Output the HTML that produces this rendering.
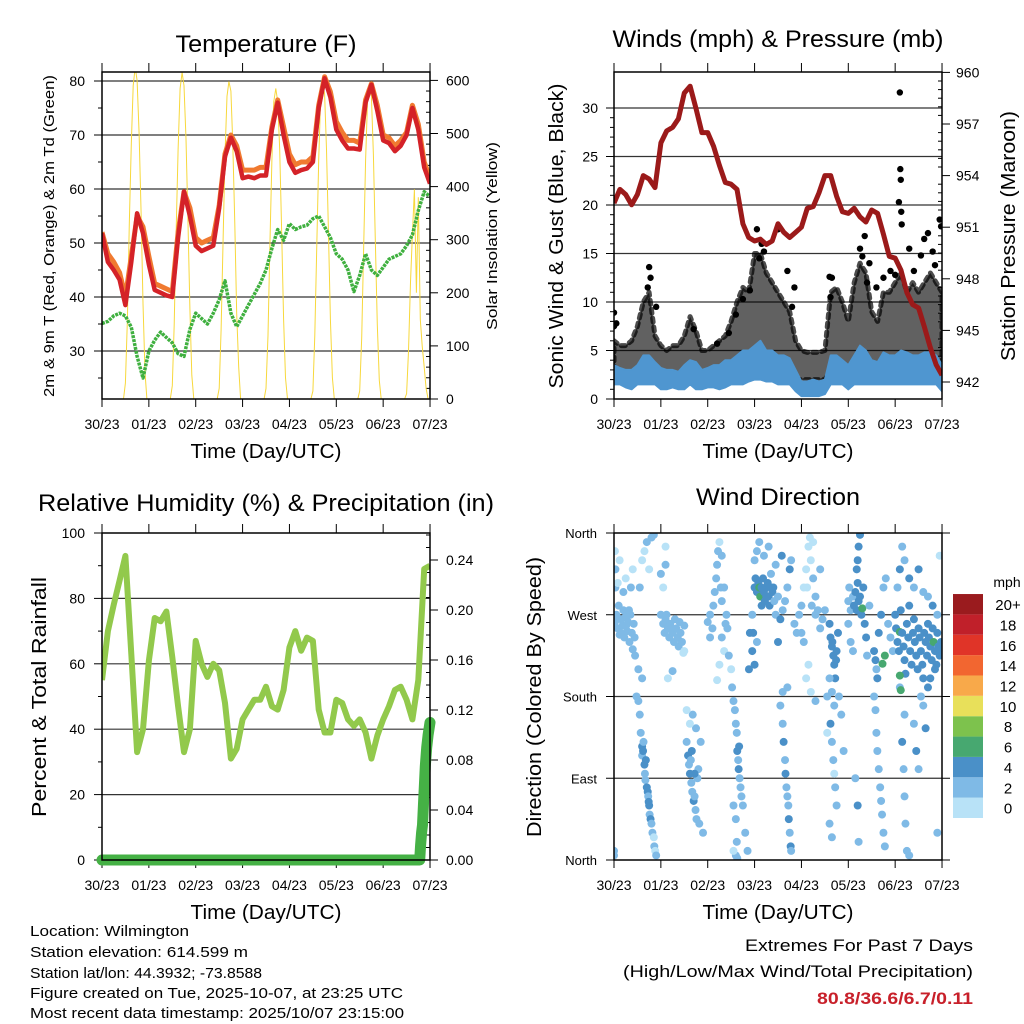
<!DOCTYPE html>
<html><head><meta charset="utf-8"><style>
html,body{margin:0;padding:0;background:#fff;}
svg{display:block;font-family:"Liberation Sans",sans-serif;}
</style></head><body>
<svg id="fig" width="1024" height="1024" viewBox="0 0 1024 1024" xmlns="http://www.w3.org/2000/svg">
<defs>
<clipPath id="c1"><rect x="102" y="72" width="328" height="327"/></clipPath>
<clipPath id="c2"><rect x="614" y="72" width="328" height="327"/></clipPath>
<clipPath id="c3"><rect x="102" y="533" width="328" height="327"/></clipPath>
<clipPath id="c4"><rect x="614" y="533" width="328" height="327"/></clipPath>
</defs>
<g id="g1"></g>
<g id="g2"></g>
<g id="g3"></g>
<g id="g4"></g>

<text x="266" y="52" text-anchor="middle" font-size="24" textLength="181" lengthAdjust="spacingAndGlyphs">Temperature (F)</text>
<text x="778" y="47" text-anchor="middle" font-size="24" textLength="331" lengthAdjust="spacingAndGlyphs">Winds (mph) &amp; Pressure (mb)</text>
<text x="266" y="511" text-anchor="middle" font-size="24" textLength="456" lengthAdjust="spacingAndGlyphs">Relative Humidity (%) &amp; Precipitation (in)</text>
<text x="778" y="505" text-anchor="middle" font-size="24" textLength="164" lengthAdjust="spacingAndGlyphs">Wind Direction</text>

<text x="266" y="458" text-anchor="middle" font-size="20" textLength="151" lengthAdjust="spacingAndGlyphs">Time (Day/UTC)</text>
<text x="778" y="458" text-anchor="middle" font-size="20" textLength="151" lengthAdjust="spacingAndGlyphs">Time (Day/UTC)</text>
<text x="266" y="919" text-anchor="middle" font-size="20" textLength="151" lengthAdjust="spacingAndGlyphs">Time (Day/UTC)</text>
<text x="778" y="919" text-anchor="middle" font-size="20" textLength="151" lengthAdjust="spacingAndGlyphs">Time (Day/UTC)</text>

<text transform="translate(54,236) rotate(-90)" text-anchor="middle" font-size="15" textLength="322" lengthAdjust="spacingAndGlyphs">2m &amp; 9m T (Red, Orange) &amp; 2m Td (Green)</text>
<text transform="translate(497,236) rotate(-90)" text-anchor="middle" font-size="15" textLength="188" lengthAdjust="spacingAndGlyphs">Solar Insolation (Yellow)</text>
<text transform="translate(563,236) rotate(-90)" text-anchor="middle" font-size="20" textLength="305" lengthAdjust="spacingAndGlyphs">Sonic Wind &amp; Gust (Blue, Black)</text>
<text transform="translate(1015,236) rotate(-90)" text-anchor="middle" font-size="20" textLength="250" lengthAdjust="spacingAndGlyphs">Station Pressure (Maroon)</text>
<text transform="translate(46,697) rotate(-90)" text-anchor="middle" font-size="20" textLength="240" lengthAdjust="spacingAndGlyphs">Percent &amp; Total Rainfall</text>
<text transform="translate(541,697) rotate(-90)" text-anchor="middle" font-size="20" textLength="280" lengthAdjust="spacingAndGlyphs">Direction (Colored By Speed)</text>

<g font-size="15">
<text x="30" y="936" textLength="159" lengthAdjust="spacingAndGlyphs">Location: Wilmington</text>
<text x="30" y="957" textLength="218" lengthAdjust="spacingAndGlyphs">Station elevation: 614.599 m</text>
<text x="30" y="978" textLength="232" lengthAdjust="spacingAndGlyphs">Station lat/lon: 44.3932; -73.8588</text>
<text x="30" y="998" textLength="373" lengthAdjust="spacingAndGlyphs">Figure created on Tue, 2025-10-07, at 23:25 UTC</text>
<text x="30" y="1018" textLength="374" lengthAdjust="spacingAndGlyphs">Most recent data timestamp: 2025/10/07 23:15:00</text>
</g>
<text x="973" y="951" text-anchor="end" font-size="17" textLength="228" lengthAdjust="spacingAndGlyphs">Extremes For Past 7 Days</text>
<text x="973" y="977" text-anchor="end" font-size="17" textLength="350" lengthAdjust="spacingAndGlyphs">(High/Low/Max Wind/Total Precipitation)</text>
<text x="973" y="1004" text-anchor="end" font-size="17" font-weight="bold" fill="#c8202a" textLength="156" lengthAdjust="spacingAndGlyphs">80.8/36.6/6.7/0.11</text>
</svg>
<script>
// ---------- data (3-hour samples, index i => day i/8 from 30/23) ----------
const dayLabels = ["30/23","01/23","02/23","03/23","04/23","05/23","06/23","07/23"];
const temp2m = [51.8,46.5,45,43.2,38.5,46.5,55.5,51.8,46,41.3,40.8,40.3,40,51,59.5,55,49.5,48.5,49,49.5,56.5,66,69.5,67,62,62.3,62,62.5,62.5,71,76,70,65,63,63.5,63.8,65,75,80.5,77,71,69,67.5,67.5,67.3,76,79.3,74.5,69,68.5,67,68,70,75,71,64,61];
const temp9m = [52,48,46.5,44.5,40,47.5,55,53,47.5,42.5,42,41.5,41,52,59.5,56.5,51,50,50.5,51,57,66.5,70,68,63.5,63.5,63.5,64,64,71.5,76.5,71.5,66.5,64.5,65,65,66,75.5,80.8,78,72.5,70.5,69,69,68.5,76.5,79.5,75.5,70,69.5,68,69,70.5,75.5,72,65,62];
const dewpoint = [35.1,35.5,36.5,37,36.5,34.4,29,25,30,32,33.5,32.5,31.5,29.5,29,34,37,36,35,37,39.5,43,37,34.5,36.5,38.5,40.5,42.5,45,49,52.5,50.5,53.6,52.5,53,53.3,54.5,55,53,51,48,47,45,41,44,48,45,44,45.5,47,47.5,48,49.5,51.5,56,59.5,58.6];
// hourly solar insolation per day (hour 0 = 23 UTC)
const solarD0 = [0,0,0,0,0,0,0,0,0,0,0,0,30,150,330,480,590,625,600,500,350,180,50,0];
const solarD1 = [0,0,0,0,0,0,0,0,0,0,0,0,25,140,320,470,585,615,590,490,340,170,45,0];
const solarD2 = [0,0,0,0,0,0,0,0,0,0,0,0,20,130,300,460,570,598,580,480,330,160,60,0];
const solarD3 = [0,0,0,0,0,0,0,0,0,0,0,0,20,120,290,450,560,585,560,470,320,150,40,0];
const solarD4 = [0,0,0,0,0,0,0,0,0,0,0,0,15,120,290,450,570,594,575,470,310,150,40,0];
const solarD5 = [0,0,0,0,0,0,0,0,0,0,0,0,15,115,280,450,560,592,570,460,300,140,35,0];
const solarD6 = [0,0,0,0,0,0,0,0,0,0,0,0,10,90,220,310,395,200,380,150,100,60,20,0];
const pressure = [952.4,953.2,952.9,952.3,952.9,954.0,953.8,953.3,955.9,956.6,956.8,957.3,958.8,959.2,957.9,956.5,956.5,955.7,954.6,953.6,953.5,953.2,951.2,950.4,950.2,950.3,950.0,950.2,951.2,950.7,950.4,950.7,951.0,952.1,952.2,953.0,954.0,954.0,952.8,951.9,951.8,952.1,951.6,951.3,952.0,951.8,950.6,949.3,949.2,948.5,947.2,946.5,946.3,945.2,944.0,943.0,942.4];
const windLo = [1.5,1.5,1.2,1,1.5,1.5,1.5,1.5,1,1,1.2,1,1,1.5,1,1,1.2,1.2,1,1.2,1.5,1.5,1.5,1.8,2,2,1.8,1.8,1.5,1.5,1.5,0.8,0.3,0.3,0.3,0.3,0.5,1.5,1.5,1.5,1,1.5,1.5,1.5,1.5,1.5,1.5,1.5,1.5,1.5,1.5,1.5,1.5,1.5,1.5,1.5,0.8];
const windHi = [3.5,3.2,3,3,3.5,4.5,4.5,3.8,3.2,3,3,2.8,3.5,4,3.8,3,3.2,3.5,3.5,4,4,4.5,5,5,5.5,6,5,5,4.5,4.5,4.2,3,1.8,1.8,2,1.8,2,4.5,4.5,4,3.5,4.5,5.5,5,4,3.8,4.8,4.5,4.5,5,4.8,4.5,4.5,4.8,4.8,4.5,3.5];
const gustLo = [2.5,2.5,2.5,2.5,3,3.5,3.5,3,2.5,2.5,2.5,2.5,2.5,3,3,2.5,2.5,2.5,3,3,3.5,3.5,4,4,4,5,4.5,4,3.5,3,3,2,2,2,2,2,2,3,3,3,2.5,3,3.5,3.5,3,3,3,3.5,3.5,3.5,3.5,3,3.5,3.5,3.5,3,3];
const gustHi = [6,5.5,5.5,6,7.5,10,11,6.5,5.5,5,5.5,5.5,6.5,8.5,7,5,5,5.5,6,6.5,8,10,11.5,11,15,15,13,12,11,10,9,6,5,4.8,4.8,4.8,5,11,11.5,10,8,12,14,13,9,8,11,11,12,13,11,12,11,12,13,12,11];
const gustOutDays = [0.0,0.0,0.05,0.72,0.75,0.78,0.9,1.7,2.2,2.45,2.6,2.75,2.9,3.05,3.1,3.15,3.2,3.5,3.7,3.8,3.85,4.6,4.62,4.65,5.25,5.3,5.35,5.4,5.45,5.6,5.75,5.9,6.0,6.08,6.1,6.11,6.12,6.13,6.14,6.3,6.4,6.55,6.62,6.7,6.8,6.85,6.95,6.98];
const gustOutVals = [8.9,7.5,7.8,11.5,13.6,12.5,9.5,7.2,5.7,6.8,8.7,10.3,11.2,17.5,14.5,16,15.2,17.5,13.2,9.5,11.5,12.6,10.5,12.5,15.5,14.7,16.8,12,14,11.5,12.5,13.2,12.8,20.3,31.6,23.7,22.6,19.3,18,15.5,13.2,14.8,16.5,17.1,15.2,13.8,18.5,17.8];
const rhVals = [55,70,78,85.5,93,63,33,40,61,74,73,76,62,47,33,40,67,60,56,60,58,48,31,34,43,46,49,49,53,47,46,52,65,70,64,68,67,46,39,39,49,48,43,41,43,39,31,38,43,47,52,53,49,43,55,89,90];
const precipDays = [0,6.5,6.78,6.8,6.82,6.84,6.86,6.88,6.9,6.93,6.96,7.0];
const precipVals = [0,0,0,0.012,0.022,0.028,0.045,0.06,0.075,0.09,0.1,0.11];
// wind direction observations: [day, direction(deg), speed(mph)]
const windDirObs = [
[0.02,262,2],[0.05,270,2],[0.08,255,2],[0.1,280,2],[0.12,248,2],[0.15,265,2],[0.18,258,2],[0.2,275,2],[0.22,245,2],[0.25,268,2],[0.28,252,2],[0.3,262,2],[0.33,240,2],[0.35,270,2],[0.38,250,2],[0.4,232,2],[0.42,260,2],[0.45,225,2],[0.03,300,2],[0.08,305,0],[0.12,330,0],[0.2,295,2],[0.25,310,0],[0.36,300,2],[0.4,320,0],[0.02,340,0],[0.0,10,2],[0.0,5,2],[0.03,320,2],[0.06,265,2],[0.14,250,2],[0.26,258,2],[0.32,275,2],[0.44,245,2],
[0.48,180,2],[0.52,175,2],[0.55,160,2],[0.57,140,2],[0.6,125,4],[0.6,115,2],[0.62,120,4],[0.63,130,2],[0.65,105,4],[0.66,95,2],[0.67,88,2],[0.7,80,4],[0.72,75,4],[0.73,70,2],[0.75,60,4],[0.76,50,2],[0.78,45,4],[0.8,40,2],[0.82,30,2],[0.85,25,0],[0.86,15,2],[0.88,10,0],[0.9,5,2],[0.55,300,2],[0.6,330,0],[0.65,340,0],[0.7,350,2],[0.8,355,2],[0.85,358,2],[0.75,320,0],[0.52,210,2],[0.6,200,2],[0.68,110,4],[0.74,64,4],
[1.0,270,2],[1.05,260,2],[1.08,250,2],[1.1,265,2],[1.15,255,2],[1.18,245,2],[1.2,260,2],[1.25,250,2],[1.28,240,2],[1.3,265,2],[1.33,255,2],[1.36,245,2],[1.38,235,2],[1.4,262,2],[1.42,250,2],[1.45,240,2],[1.48,228,0],[1.5,258,2],[1.05,300,0],[1.1,325,2],[1.0,315,2],[1.1,345,0],[1.15,200,0],[1.25,208,2],[1.5,230,0],[1.12,270,2],[1.22,255,2],
[1.55,130,2],[1.58,115,4],[1.6,105,2],[1.62,95,4],[1.64,110,2],[1.65,85,2],[1.67,75,2],[1.7,65,4],[1.72,70,2],[1.74,55,2],[1.76,45,2],[1.78,90,2],[1.8,100,2],[1.82,40,2],[1.85,130,2],[1.75,145,2],[1.62,150,0],[1.68,160,2],[1.9,30,2],[1.55,165,0],[1.66,120,4],[1.72,95,4],
[2.0,262,2],[2.05,270,2],[2.1,255,2],[2.12,280,2],[2.15,295,2],[2.18,310,2],[2.2,325,2],[2.22,340,2],[2.25,350,0],[2.28,300,2],[2.3,285,2],[2.3,245,2],[2.35,230,0],[2.4,270,2],[2.42,255,2],[2.45,225,2],[2.5,210,0],[2.2,198,0],[2.25,215,0],[2.38,260,2],[2.05,245,2],[2.3,335,2],[2.35,300,2],
[2.52,190,2],[2.55,175,2],[2.58,165,2],[2.6,150,2],[2.62,140,2],[2.63,120,4],[2.65,110,2],[2.66,100,4],[2.68,90,2],[2.7,80,2],[2.72,70,2],[2.75,60,2],[2.55,60,2],[2.6,45,2],[2.62,20,2],[2.6,5,2],[2.63,2,2],[2.55,10,0],[2.8,30,2],[2.85,10,2],[2.9,250,4],[2.95,230,4],[2.88,210,4],[2.67,125,4],
[3.0,300,4],[3.02,310,4],[3.05,295,4],[3.08,305,4],[3.1,300,6],[3.12,290,6],[3.15,280,4],[3.18,310,4],[3.2,295,4],[3.22,285,4],[3.25,300,4],[3.28,305,4],[3.3,290,4],[3.32,280,4],[3.35,315,2],[3.38,295,4],[3.4,300,4],[3.42,285,2],[3.45,270,2],[3.5,290,2],[3.0,330,2],[3.05,340,2],[3.1,350,2],[3.2,335,2],[3.3,345,2],[3.45,325,2],[2.95,270,2],[2.97,250,4],[3.0,215,4],[3.05,240,2],[3.15,300,4],[3.25,290,4],[3.35,300,4],
[3.55,170,2],[3.6,150,2],[3.62,130,4],[3.65,110,2],[3.66,95,4],[3.68,80,2],[3.7,70,2],[3.72,60,2],[3.73,45,4],[3.75,30,2],[3.77,15,4],[3.78,10,2],[3.6,185,2],[3.7,190,2],[3.5,240,4],[3.55,265,4],[3.6,275,2],[3.65,285,2],[3.7,300,2],[3.75,320,4],[3.78,330,2],[3.58,335,4],[3.85,260,2],[3.9,250,2],[3.95,270,2],
[4.0,280,2],[4.05,300,0],[4.1,320,0],[4.15,345,0],[4.18,355,0],[4.2,330,0],[4.25,310,2],[4.3,290,2],[4.35,275,2],[4.4,255,2],[4.1,200,0],[4.15,215,0],[4.2,185,0],[4.3,175,2],[4.45,265,2],[4.5,275,2],[4.0,250,2],[4.05,240,2],[4.25,350,0],[4.4,320,2],[4.3,270,2],[4.55,180,2],[4.12,300,0],[4.22,280,2],
[4.6,260,4],[4.62,245,4],[4.65,235,4],[4.68,225,4],[4.7,215,4],[4.72,200,4],[4.75,230,4],[4.78,250,4],[4.6,200,2],[4.65,185,2],[4.7,170,2],[4.62,150,4],[4.65,130,2],[4.68,110,2],[4.7,95,0],[4.72,80,2],[4.75,60,2],[4.6,40,2],[4.65,25,2],[4.8,180,2],[4.85,160,2],[4.9,120,2],[4.55,140,0],[4.66,240,4],[4.74,220,4],
[5.0,285,2],[5.02,300,2],[5.05,275,2],[5.1,290,2],[5.12,280,4],[5.15,295,4],[5.18,275,4],[5.2,305,4],[5.22,285,4],[5.25,290,4],[5.28,270,4],[5.3,277,6],[5.32,300,4],[5.35,260,4],[5.38,245,4],[5.4,225,2],[5.45,280,2],[5.2,330,4],[5.22,345,4],[5.25,358,4],[5.18,320,4],[5.0,260,2],[5.05,240,2],[5.1,230,2],[5.15,90,2],[5.2,60,4],[5.22,20,2],
[5.55,180,2],[5.58,165,2],[5.6,140,2],[5.62,120,2],[5.65,100,2],[5.68,80,2],[5.7,65,2],[5.72,50,2],[5.75,30,2],[5.78,15,2],[5.55,230,4],[5.58,220,4],[5.6,210,2],[5.62,200,4],[5.65,250,4],[5.7,270,4],[5.75,300,2],[5.8,310,2],[5.85,260,2],[5.9,245,2],[5.95,230,2],[5.78,225,6],[5.73,216,6],
[6.0,270,4],[6.02,255,4],[6.05,240,4],[6.08,230,4],[6.1,251,6],[6.12,275,4],[6.15,250,4],[6.18,235,4],[6.2,220,4],[6.22,205,4],[6.25,260,4],[6.28,245,4],[6.3,280,4],[6.32,230,4],[6.35,215,4],[6.38,250,4],[6.4,265,4],[6.42,240,4],[6.45,225,4],[6.48,210,4],[6.5,255,4],[6.52,245,4],[6.55,230,4],[6.58,215,4],[6.6,200,4],[6.62,250,4],[6.65,240,4],[6.68,225,4],[6.7,260,4],[6.72,245,4],[6.75,235,4],[6.78,220,4],[6.8,255,4],[6.82,240,6],[6.85,230,4],[6.88,215,4],[6.9,250,4],[6.92,235,4],[6.95,225,4],[6.98,240,4],[7.0,230,4],
[6.05,300,2],[6.1,320,4],[6.15,345,2],[6.2,330,2],[6.3,310,4],[6.4,300,2],[6.5,320,4],[6.6,295,2],[6.7,290,2],[6.8,280,4],[6.9,270,2],[6.1,190,2],[6.2,160,2],[6.15,130,4],[6.18,100,2],[6.2,70,2],[6.22,40,2],[6.25,10,2],[6.3,5,2],[6.4,150,2],[6.45,120,4],[6.5,100,2],[6.55,180,2],[6.6,170,2],[6.65,145,4],[6.7,190,4],[6.1,203,6],[6.12,187,6],[6.9,30,2],[6.95,335,0],[6.75,200,4],[6.85,210,4]
];
const speedBins = ["0","2","4","6","8","10","12","14","16","18","20+"];
const speedColors = ["#b8e2f7","#7fbae6","#4a90c8","#47a870","#7dc24d","#e8e05a","#f8a94a","#f26630","#e03428","#c0202a","#9a1b1e"];

// ---------- helpers ----------
const NS="http://www.w3.org/2000/svg";
function mk(parent, tag, attrs){const e=document.createElementNS(NS,tag);for(const k in attrs)e.setAttribute(k,attrs[k]);parent.appendChild(e);return e;}
const DAYPX=46.86;
const X1=d=>102+d*DAYPX, X2=d=>614+d*DAYPX;
const yT=v=>351-(v-30)*5.4, yS=v=>399-v*0.531;
const yW=v=>399-v*9.7, yP=v=>382-(v-942)*17.2;
const yH=v=>860-v*3.27, yR=v=>860-v*1250;
const yD=v=>860-v*327/360;
const g1=document.getElementById('g1'),g2=document.getElementById('g2'),g3=document.getElementById('g3'),g4=document.getElementById('g4');

function frame(g,x0,y0,y1){
  for(let k=0;k<dayLabels.length;k++){
    const x=x0+k*DAYPX;
    const t1=mk(g,'line',{x1:x,y1:y0,x2:x,y2:y0-9,stroke:'#000','stroke-width':1});
    
    
    const t2=mk(g,'line',{x1:x,y1:y1,x2:x,y2:y1+8,stroke:'#000','stroke-width':1});
    
    
    const lb=mk(g,'text',{x:x,y:y1+30,'text-anchor':'middle','font-size':14});
    lb.textContent=dayLabels[k];
    
    
  }
}
function box(g,x0,y0,y1){
  const r=mk(g,'rect',{x:x0,y:y0,width:328,height:y1-y0,fill:'none',stroke:'#000','stroke-width':1.5});
  
  
}
function hgrid(g,x0,y){const l=mk(g,'line',{x1:x0,y1:y,x2:x0+328,y2:y,stroke:'#333','stroke-width':1.2});
  
  }
function ytick(g,x,y,len,label,anchor,lx,fs){
  const t=mk(g,'line',{x1:x,y1:y,x2:x+len,y2:y,stroke:'#000','stroke-width':1});
  
  
  if(label!==null){const tx=mk(g,'text',{x:lx,y:y+5,'text-anchor':anchor,'font-size':fs||14});tx.textContent=label;
    
    }
}
function pathFrom(xs,ys){return xs.map((x,i)=>(i?'L':'M')+x.toFixed(1)+','+ys[i].toFixed(1)).join('');}

// ---------- Panel 1: temperature ----------
for(let v=30;v<=80;v+=10) hgrid(g1,102,yT(v));
for(let v=25;v<=80;v+=5) ytick(g1,102,yT(v),v%10?-4:-8,v%10?null:String(v),'end',85);
for(let v=0;v<=600;v+=20) ytick(g1,430,yS(v),v%100?-4:8,v%100?null:String(v),'start',446);
frame(g1,102,72,399);
const c1=mk(g1,'g',{'clip-path':'url(#c1)'});


const solarDays=[solarD0,solarD1,solarD2,solarD3,solarD4,solarD5,solarD6];
solarDays.forEach((arr,d)=>{
  const xs=arr.map((v,h)=>X1(d+h/24)), ys=arr.map(v=>yS(v));
  const p=mk(c1,'path',{d:pathFrom(xs,ys),fill:'none',stroke:'#f7d83c','stroke-width':1});
  
  
});
const tx=temp2m.map((v,i)=>X1(i/8));
const po=mk(c1,'path',{d:pathFrom(tx,temp9m.map(yT)),fill:'none',stroke:'#f07a30','stroke-width':5,'stroke-linejoin':'round'});


const pr=mk(c1,'path',{d:pathFrom(tx,temp2m.map(yT)),fill:'none',stroke:'#d42228','stroke-width':4.5,'stroke-linejoin':'round'});


const pg=mk(c1,'path',{d:pathFrom(tx,dewpoint.map(yT)),fill:'none',stroke:'#3fb03f','stroke-width':3.5,'stroke-dasharray':'3 1','stroke-linejoin':'round'});


box(g1,102,72,399);

// ---------- Panel 2: winds & pressure ----------
for(let v=5;v<=30;v+=5) hgrid(g2,614,yW(v));
for(let v=0;v<=30;v+=1) ytick(g2,614,yW(v),v%5?-4:-8,v%5?null:String(v),'end',598);
for(let v=942;v<=960;v+=0.5){const maj=Math.abs(v%3)<0.01;ytick(g2,942,yP(v),maj?8:-4,maj?String(v):null,'start',956);}
frame(g2,614,72,399);
const c2=mk(g2,'g',{'clip-path':'url(#c2)'});


const wx=gustLo.map((v,i)=>X2(i/8));
const gb=mk(c2,'path',{d:pathFrom(wx,gustHi.map(yW))+pathFrom(wx.slice().reverse(),gustLo.map(yW).reverse()).replace('M','L')+'Z',fill:'#000','fill-opacity':0.62,stroke:'#000','stroke-opacity':0.7,'stroke-width':5,'stroke-linejoin':'round','stroke-dasharray':'4 5','stroke-linecap':'round'});


gustOutDays.forEach((d,i)=>{
  const c=mk(c2,'circle',{cx:X2(d),cy:yW(gustOutVals[i]),r:3.2,fill:'#000'});
  
  
});
const bb=mk(c2,'path',{d:pathFrom(wx,windHi.map(yW))+pathFrom(wx.slice().reverse(),windLo.map(yW).reverse()).replace('M','L')+'Z',fill:'#4f96d0',stroke:'#4f96d0','stroke-width':2,'stroke-linejoin':'round'});


const pp=mk(c2,'path',{d:pathFrom(wx,pressure.map(yP)),fill:'none',stroke:'#9b1a1a','stroke-width':5,'stroke-linejoin':'round'});


box(g2,614,72,399);

// ---------- Panel 3: humidity & precip ----------
for(let v=20;v<=80;v+=20) hgrid(g3,102,yH(v));
for(let v=0;v<=100;v+=10) ytick(g3,102,yH(v),v%20?-4:-8,v%20?null:String(v),'end',85);
for(let k=0;k<=26;k++){const v=k/100;const maj=k%4===0;ytick(g3,430,yR(v),maj?8:-4,maj?v.toFixed(2):null,'start',446);}
frame(g3,102,533,860);
const c3=mk(g3,'g',{'clip-path':'url(#c3)'});


const rh=mk(c3,'path',{d:pathFrom(rhVals.map((v,i)=>X1(i/8)),rhVals.map(yH)),fill:'none',stroke:'#92c94c','stroke-width':6,'stroke-linejoin':'round'});


const pc=mk(g3,'path',{d:pathFrom(precipDays.map(X1),precipVals.map(yR)),fill:'none',stroke:'#45b145','stroke-width':11,'stroke-linejoin':'round','stroke-linecap':'round'});


box(g3,102,533,860);

// ---------- Panel 4: wind direction ----------
const dirLabels=["North","East","South","West","North"];
[90,180,270].forEach(v=>hgrid(g4,614,yD(v)));
[0,90,180,270,360].forEach((v,i)=>ytick(g4,614,yD(v),-8,dirLabels[i],'end',597,13));
for(let v=0;v<=360;v+=90) ytick(g4,942,yD(v),8,null);
frame(g4,614,533,860);
const c4=mk(g4,'g',{'clip-path':'url(#c4)'});


windDirObs.forEach(o=>{
  const bin=Math.min(10,Math.round(o[2]/2));
  const c=mk(c4,'circle',{cx:X2(o[0]),cy:yD(o[1]),r:4,fill:speedColors[bin]});
  
  
});
box(g4,614,533,860);
// colorbar
const mph=mk(g4,'text',{x:1007,y:587,'text-anchor':'middle','font-size':14});mph.textContent='mph';


speedBins.forEach((lab,i)=>{
  const y=818-(i+1)*20.36;
  const r=mk(g4,'rect',{x:953,y:y,width:30,height:20.36,fill:speedColors[i]});
  
  
  const t=mk(g4,'text',{x:1008,y:y+16,'text-anchor':'middle','font-size':15});t.textContent=lab;
  
  
});
</script>
</body></html>
